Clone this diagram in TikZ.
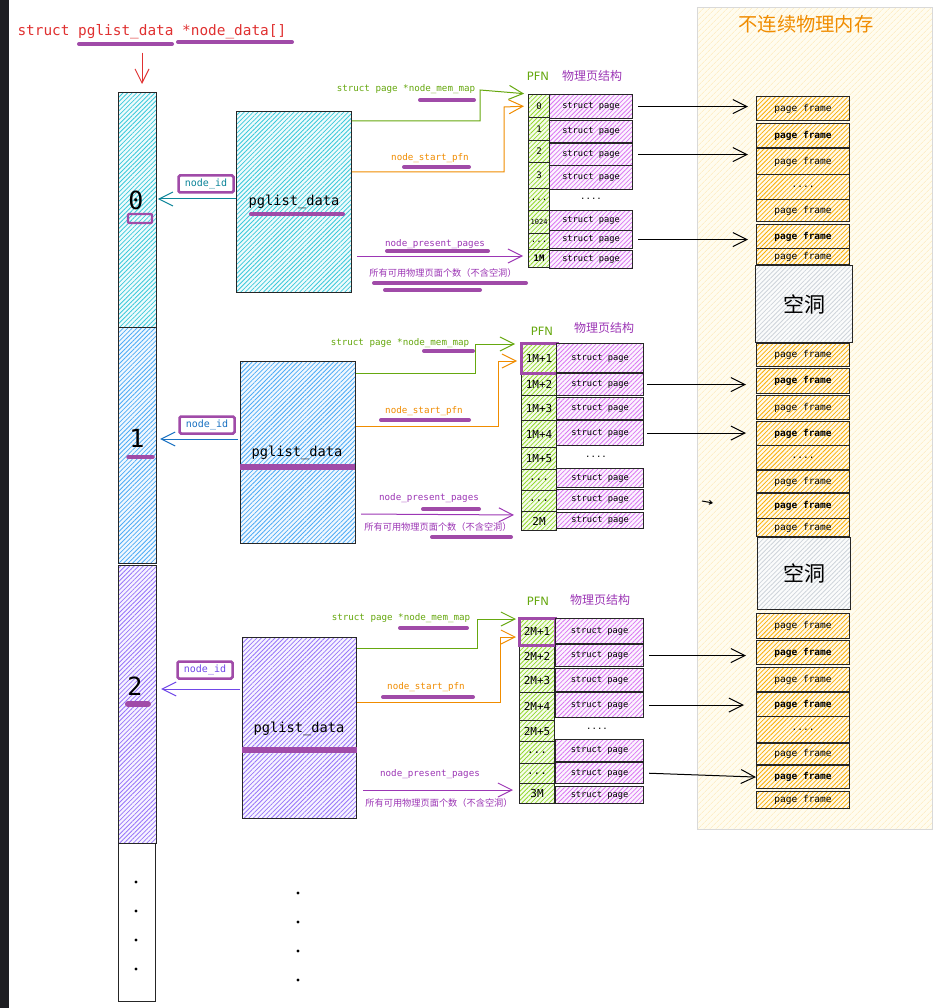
\documentclass[tikz,border=0pt]{standalone}
\usepackage{fontspec}
\setmonofont{DejaVu Sans Mono}
\setsansfont{DejaVu Sans}
\newfontfamily\cjk{Noto Sans CJK SC}
\usetikzlibrary{arrows.meta,patterns.meta}

\definecolor{darkstrip}{HTML}{1E1E22}
\definecolor{codered}{HTML}{E03131}
\definecolor{markpurple}{HTML}{A04BA8}
\definecolor{cyanh}{HTML}{3BC9DB}
\definecolor{blueh}{HTML}{4DABF7}
\definecolor{violeth}{HTML}{9775FA}
\definecolor{grapeh}{HTML}{DA77F2}
\definecolor{limeh}{HTML}{94D82D}
\definecolor{yellowh}{HTML}{FAB005}
\definecolor{grayh}{HTML}{CED4DA}
\definecolor{greentxt}{HTML}{66A80F}
\definecolor{orangetxt}{HTML}{F08C00}
\definecolor{purpletxt}{HTML}{9C36B5}
\definecolor{tealtxt}{HTML}{0C8599}
\definecolor{bluetxt}{HTML}{1971C2}
\definecolor{violettxt}{HTML}{7048E8}
\definecolor{panelfill}{HTML}{FFFCEF}

\newcommand{\pfdots}{...}
\newcommand{\pframe}{page frame}
\newcommand{\pframeb}{\textbf{page frame}}
\newcommand{\pframedots}{....}

\begin{document}
\begin{tikzpicture}[x=1pt, y=-1pt, line width=1pt, >={Straight Barb[length=14pt,width=14pt]},
  every node/.style={inner sep=0pt, font=\ttfamily},
  hatch/.style={preaction={fill=#1!8}, pattern={Lines[angle=45,distance=3.2pt,line width=0.8pt]}, pattern color=#1}]

\tikzstyle{cell}=[draw=black!85, line width=1.1pt, anchor=north west]
\tikzstyle{uline}=[draw=markpurple, line width=4pt, line cap=round]
\tikzstyle{bar}=[draw=markpurple, line width=6pt]
\tikzstyle{pfn}=[cell, hatch=limeh, font=\ttfamily\fontsize{11}{11}\selectfont]
\tikzstyle{spage}=[cell, hatch=grapeh, font=\ttfamily\fontsize{8.7}{9}\selectfont]
\tikzstyle{frame}=[cell, hatch=yellowh, minimum width=93, font=\ttfamily\fontsize{9.5}{10}\selectfont]
\tikzstyle{hole}=[cell, hatch=grayh, font=\cjk\fontsize{21}{21}\selectfont]
\tikzstyle{idbox}=[draw=markpurple, line width=2.5pt, rounded corners=1.5pt, fill=white, minimum width=55, minimum height=17, font=\ttfamily\fontsize{10}{10}\selectfont]
\tikzstyle{digit}=[font=\ttfamily\fontsize{25}{25}\selectfont]
\tikzstyle{pgtext}=[font=\ttfamily\fontsize{13.7}{14}\selectfont]
\tikzstyle{lbl}=[font=\ttfamily\fontsize{9.2}{10}\selectfont]
\tikzstyle{cnlbl}=[font=\cjk\fontsize{9.2}{10}\selectfont, text=purpletxt]
\tikzstyle{pfnhead}=[font=\sffamily\fontsize{11.5}{12}\selectfont, text=greentxt]
\tikzstyle{sphead}=[font=\cjk\fontsize{12}{12}\selectfont, text=purpletxt]
\tikzstyle{plain}=[font=\ttfamily\fontsize{9}{9}\selectfont]

\useasboundingbox (0,0) rectangle (939,1008);
\fill[white] (0,0) rectangle (939,1008);
\fill[darkstrip] (0,0) rectangle (9,1008);

\node[cell, draw=black!15, line width=1.2pt, preaction={fill=panelfill}, pattern={Lines[angle=45,distance=4pt,line width=0.5pt]}, pattern color=yellowh!30, minimum width=235, minimum height=822] (mem) at (697,7) {};
\node[font=\cjk\fontsize{19.3}{20}\selectfont, text=orangetxt] (memtitle) at (806,24) {不连续物理内存};

\node[anchor=west, text=codered, font=\ttfamily\fontsize{14.4}{16}\selectfont] (title) at (17,32) {struct pglist\_data *node\_data[]};
\draw[uline] (79,44) -- (172,44);
\draw[uline] (178,42) -- (292,42);

\node[cell, hatch=cyanh, minimum width=38, minimum height=235] (arr0) at (118,92) {};
\node[cell, hatch=blueh, minimum width=38, minimum height=236] (arr1) at (118,327) {};
\node[cell, hatch=violeth, minimum width=38, minimum height=278] (arr2) at (118,565) {};
\node[cell, minimum width=37, minimum height=158] (arr3) at (118,843) {};
\draw[->, draw=codered, shorten <=13pt, shorten >=8pt] (title.south -| 142,0) -- (arr0.north -| 142,0);

\node[digit] (num0) at (136,200) {0};
\draw[draw=markpurple, line width=2.2pt, rounded corners=1pt] (128,214) rectangle (152,223);
\node[digit] (num1) at (137,438) {1};
\draw[uline, line width=3.5pt] (128,457) -- (153,457);
\node[digit] (num2) at (135,686) {2};
\draw[uline, line width=6pt] (128,704) -- (148,704);

\foreach \x/\y in {136/882, 136/911, 136/940, 136/969, 298/893, 298/922, 298/951, 298/980}
  \fill (\x,\y) circle (1.6pt);

\node[cell, hatch=cyanh, minimum width=115, minimum height=181] (pg0) at (236,111) {};
\node[pgtext] (pgt0) at (294,202) {pglist\_data};
\draw[uline] (251,214) -- (343,214);
\node[cell, hatch=blueh, minimum width=115, minimum height=182] (pg1) at (240,361) {};
\node[pgtext] (pgt1) at (297,453) {pglist\_data};
\draw[bar] (240,467) -- (355,467);
\node[cell, hatch=violeth, minimum width=114, minimum height=181] (pg2) at (242,637) {};
\node[pgtext] (pgt2) at (299,729) {pglist\_data};
\draw[bar] (242,750) -- (357,750);

\node[idbox, text=tealtxt] (id0) at (206,184) {node\_id};
\node[idbox, text=bluetxt] (id1) at (207,425) {node\_id};
\node[idbox, text=violettxt] (id2) at (205,670) {node\_id};
\draw[->, draw=tealtxt, shorten >=1pt] (pg0.west |- 0,199) -- (arr0.east |- 0,199);
\draw[->, draw=bluetxt, shorten <=2pt, shorten >=3pt] (pg1.west |- 0,439) -- (arr1.east |- 0,439);
\draw[->, draw=violettxt, shorten <=2pt, shorten >=4pt] (pg2.west |- 0,689) -- (arr2.east |- 0,689);

\node[pfnhead] (pfnh0) at (538,76) {PFN};
\node[sphead] (sph0) at (592,76) {物理页结构};
\foreach \t/\h/\l [count=\i] in {94/23/0, 117/23/1, 140/22/2, 162/26/3, 188/22/\pfdots, 210/23/{\fontsize{7}{7}\selectfont 1024}, 233/16/\pfdots, 249/18/\bfseries 1M}
  \node[pfn, font=\ttfamily\fontsize{9}{9}\selectfont, minimum width=21, minimum height=\h] (pfa-\i) at (528,\t) {\l};
\foreach \t/\h [count=\i] in {94/24, 120/22, 143/22, 165/24, 210/20, 230/18, 250/18}
  \node[spage, minimum width=83, minimum height=\h] (spa-\i) at (549,\t) {struct page};
\node[plain] (spadots) at (591,199) {....};

\node[pfnhead] (pfnh1) at (542,331) {PFN};
\node[sphead] (sph1) at (604,328) {物理页结构};
\foreach \t/\h/\l [count=\i] in {343/29/1M+1, 372/23/1M+2, 395/25/1M+3, 420/27/1M+4, 447/22/1M+5, 469/21/\pfdots, 490/21/\pfdots, 511/19/2M}
  \node[pfn, minimum width=35, minimum height=\h] (pfb-\i) at (521,\t) {\l};
\draw[draw=markpurple, line width=3pt] (pfb-1.north west) rectangle (pfb-1.south east);
\foreach \t/\h [count=\i] in {343/29, 373/22, 397/22, 420/25, 468/19, 489/20, 512/16}
  \node[spage, minimum width=87, minimum height=\h] (spb-\i) at (556,\t) {struct page};
\node[plain] (spbdots) at (596,457) {....};

\node[pfnhead] (pfnh2) at (538,601) {PFN};
\node[sphead] (sph2) at (600,600) {物理页结构};
\foreach \t/\h/\l [count=\i] in {618/26/2M+1, 644/24/2M+2, 668/24/2M+3, 692/28/2M+4, 720/21/2M+5, 741/22/\pfdots, 763/20/\pfdots, 783/20/3M}
  \node[pfn, minimum width=35, minimum height=\h] (pfc-\i) at (519,\t) {\l};
\draw[draw=markpurple, line width=3pt] (pfc-1.north west) rectangle (pfc-1.south east);
\foreach \t/\h [count=\i] in {618/25, 644/22, 668/23, 692/25, 739/22, 762/21, 786/17}
  \node[spage, minimum width=88, minimum height=\h] (spc-\i) at (555,\t) {struct page};
\node[plain] (spcdots) at (597,729) {....};

\foreach \t/\h/\l [count=\i] in {96/24/\pframe, 123/24/\pframeb, 148/26/\pframe, 174/25/\pframedots, 199/22/\pframe, 224/24/\pframeb, 248/16/\pframe,
    343/23/\pframe, 368/25/\pframeb, 395/24/\pframe, 421/24/\pframeb, 445/24/\pframedots, 470/22/\pframe, 493/25/\pframeb, 518/18/\pframe,
    613/25/\pframe, 640/24/\pframeb, 667/24/\pframe, 692/24/\pframeb, 716/26/\pframedots, 743/21/\pframe, 765/23/\pframeb, 791/17/\pframe}
  \node[frame] (pf-\i) at (756,\t) [minimum height=\h] {\l};
\node[hole, minimum width=97, minimum height=77] (hole0) at (755,265) {空洞};
\node[hole, minimum width=93, minimum height=72] (hole1) at (757,537) {空洞};

\node[lbl, text=greentxt] (mm0) at (406,89) {struct page *node\_mem\_map};
\draw[uline] (420,100) -- (474,100);
\node[lbl, text=orangetxt] (st0) at (430,158) {node\_start\_pfn};
\draw[uline] (404,167) -- (469,167);
\node[lbl, text=purpletxt] (np0) at (435,244) {node\_present\_pages};
\draw[uline] (387,251) -- (488,251);
\node[cnlbl] (cn0) at (443,273) {所有可用物理页面个数（不含空洞）};
\draw[uline] (374,283) -- (526,283);
\draw[uline] (385,290) -- (480,290);
\draw[->, draw=greentxt, shorten >=4pt] (pg0.east |- 0,121) -| (480,90) -- (pfa-1.north west);
\draw[->, draw=orangetxt, shorten >=4pt] (pg0.east |- 0,172) -| (504,107) -- (pfa-1.west);
\draw[->, draw=purpletxt, shorten <=5pt, shorten >=5pt] (pg0.east |- 0,256) -- (pfa-8.west |- 0,256);

\node[lbl, text=greentxt] (mm1) at (400,343) {struct page *node\_mem\_map};
\draw[uline] (424,351) -- (473,351);
\node[lbl, text=orangetxt] (st1) at (424,411) {node\_start\_pfn};
\draw[uline] (381,420) -- (469,420);
\node[lbl, text=purpletxt] (np1) at (429,498) {node\_present\_pages};
\draw[uline] (423,509) -- (479,509);
\node[cnlbl] (cn1) at (438,527) {所有可用物理页面个数（不含空洞）};
\draw[uline] (432,537) -- (511,537);
\draw[->, draw=greentxt, shorten >=6pt] (pg1.east |- 0,373) -| (475,344) -- (pfb-1.west |- 0,344);
\draw[->, draw=orangetxt, shorten >=4pt] (pg1.east |- 0,426) -| (498,361) -- (pfb-1.west |- 0,361);
\draw[->, draw=purpletxt, shorten <=5pt, shorten >=7pt] (pg1.east |- 0,514) -- (pfb-8.west |- 0,515);

\node[lbl, text=greentxt] (mm2) at (401,618) {struct page *node\_mem\_map};
\draw[uline] (400,628) -- (467,628);
\node[lbl, text=orangetxt] (st2) at (426,687) {node\_start\_pfn};
\draw[uline] (383,697) -- (473,697);
\node[lbl, text=purpletxt] (np2) at (430,774) {node\_present\_pages};
\node[cnlbl] (cn2) at (439,803) {所有可用物理页面个数（不含空洞）};
\draw[->, draw=greentxt, shorten >=3pt] (pg2.east |- 0,648) -| (477,619) -- (pfc-1.west |- 0,619);
\draw[->, draw=orangetxt, shorten >=3pt] (pg2.east |- 0,702) -| (500,637) -- (pfc-1.west |- 0,637);
\draw[->, draw=purpletxt, shorten <=6pt, shorten >=6pt] (pg2.east |- 0,790) -- (pfc-8.west |- 0,790);

\draw[->, shorten <=5pt, shorten >=8pt] (spa-1.east) -- (spa-1.east -| pf-1.west);
\draw[->, shorten <=5pt, shorten >=8pt] (spa-3.east) -- (spa-3.east -| pf-3.west);
\draw[->, shorten <=5pt, shorten >=8pt] (spa-6.east) -- (spa-6.east -| pf-6.west);
\draw[->, shorten <=3pt, shorten >=10pt] (spb-2.east) -- (spb-2.east -| pf-9.west);
\draw[->, shorten <=3pt, shorten >=10pt] (spb-4.east) -- (spb-4.east -| pf-11.west);
\draw[->, shorten <=5pt, shorten >=10pt] (spc-2.east) -- (spc-2.east -| pf-17.west);
\draw[->, shorten <=5pt, shorten >=12pt] (spc-4.east) -- (spc-4.east -| pf-19.west);
\draw[->, shorten <=5pt] (spc-6.east) -- (pf-22.west);

\coordinate (stray0) at (702,501);
\coordinate (stray1) at (713,503);
\draw[->, >={Straight Barb[length=3pt,width=4pt]}] (stray0) -- (stray1);

\end{tikzpicture}
\end{document}
